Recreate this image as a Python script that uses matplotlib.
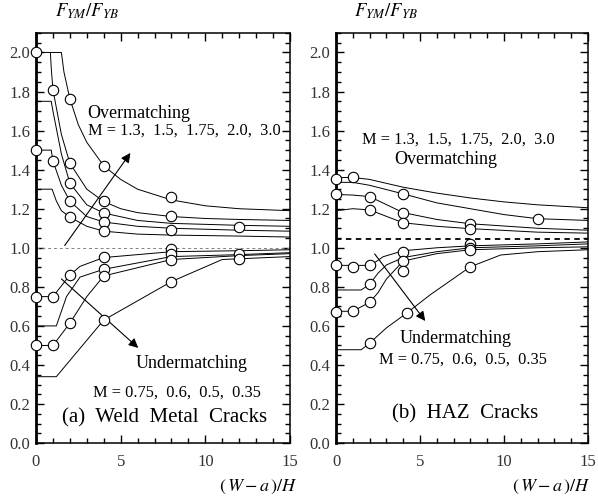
import numpy as np
import matplotlib
matplotlib.use("Agg")
import matplotlib.pyplot as plt
from matplotlib.ticker import MultipleLocator

plt.rcParams['font.family'] = ['Liberation Serif', 'DejaVu Serif']
plt.rcParams['mathtext.fontset'] = 'stix'

# ---- (a) weld metal cracks: overmatching curves (M = 3.0, 2.0, 1.75, 1.5, 1.3)
wm_o1_x = [0, 1.5, 1.65, 2, 2.5, 3, 4, 5, 6, 8, 10, 12, 15]
wm_o1_y = [2.0, 2.0, 1.9, 1.763, 1.63, 1.54, 1.42, 1.35, 1.30, 1.245, 1.215, 1.2, 1.19]
wm_o2_x = [0.85, 0.9, 1, 1.5, 2, 3, 4, 5, 6, 8, 10, 12, 15]
wm_o2_y = [2.0, 1.92, 1.81, 1.58, 1.433, 1.30, 1.237, 1.2, 1.18, 1.16, 1.15, 1.145, 1.14]
wm_o3_x = [0, 0.9, 1, 1.5, 2, 3, 4, 6, 8, 12, 15]
wm_o3_y = [1.75, 1.75, 1.70, 1.48, 1.331, 1.22, 1.178, 1.14, 1.125, 1.115, 1.11]
wm_o4_x = [0, 0.9, 1, 1.5, 2, 3, 4, 6, 8, 12, 15]
wm_o4_y = [1.5, 1.5, 1.445, 1.32, 1.239, 1.16, 1.132, 1.11, 1.10, 1.09, 1.085]
wm_o5_x = [0, 0.95, 1.2, 1.5, 2, 3, 4, 6, 8, 12, 15]
wm_o5_y = [1.3, 1.3, 1.24, 1.19, 1.157, 1.11, 1.085, 1.07, 1.065, 1.06, 1.055]

# undermatching curves (M = 0.75, 0.6, 0.5, 0.35)
wm_u1_x = [0, 1, 2, 2.6, 4, 8, 12, 15]
wm_u1_y = [0.75, 0.75, 0.86, 0.905, 0.95, 0.98, 0.985, 0.99]
wm_u2_x = [0, 1.2, 1.8, 2.6, 4, 8, 12, 15]
wm_u2_y = [0.6, 0.6, 0.75, 0.85, 0.89, 0.955, 0.965, 0.975]
wm_u3_x = [0, 1, 2, 3, 4, 8, 12, 15]
wm_u3_y = [0.5, 0.5, 0.614, 0.75, 0.856, 0.94, 0.96, 0.97]
wm_u4_x = [0, 1.2, 4, 8, 11, 15]
wm_u4_y = [0.34, 0.34, 0.63, 0.827, 0.94, 0.955]

# FE points
wm_pts_x = [0, 1, 2, 0, 1, 2, 2, 2, 2, 4, 4, 4, 4, 4, 8, 8, 8, 12,
            0, 1, 2, 0, 1, 2, 4, 4, 4, 4, 8, 8, 8, 8, 12, 12]
wm_pts_y = [2.0, 1.81, 1.763, 1.5, 1.445, 1.433, 1.331, 1.239, 1.157,
            1.42, 1.237, 1.178, 1.132, 1.085, 1.262, 1.161, 1.09, 1.107,
            0.75, 0.75, 0.86, 0.5, 0.5, 0.614, 0.954, 0.89, 0.856, 0.631,
            0.996, 0.967, 0.937, 0.827, 0.97, 0.945]

# ---- (b) HAZ cracks
haz_o1_x = [0, 1, 2, 4, 6, 8, 10, 12, 15]
haz_o1_y = [1.36, 1.36, 1.35, 1.31, 1.28, 1.255, 1.235, 1.22, 1.205]
haz_o2_x = [0, 1, 2, 4, 6, 8, 10, 12, 15]
haz_o2_y = [1.335, 1.335, 1.32, 1.276, 1.23, 1.20, 1.17, 1.149, 1.14]
haz_o3_x = [0, 1, 2, 4, 6, 8, 12, 15]
haz_o3_y = [1.273, 1.27, 1.262, 1.18, 1.145, 1.123, 1.10, 1.09]
haz_o4_x = [0, 1, 2, 4, 6, 8, 12, 15]
haz_o4_y = [1.19, 1.2, 1.194, 1.128, 1.11, 1.098, 1.08, 1.075]

haz_u1_x = [0, 2, 2.4, 2.8, 4, 6, 8, 12, 15]
haz_u1_y = [0.91, 0.91, 0.93, 0.954, 0.985, 1.0, 1.01, 1.02, 1.03]
haz_u2_x = [0, 1.5, 2, 2.5, 3, 4, 6, 8, 12, 15]
haz_u2_y = [0.784, 0.784, 0.813, 0.87, 0.912, 0.95, 0.98, 1.0, 1.01, 1.02]
haz_u3_x = [0, 1, 2, 2.5, 3, 4, 6, 8, 12, 15]
haz_u3_y = [0.675, 0.675, 0.721, 0.77, 0.84, 0.932, 0.97, 0.99, 1.0, 1.005]
haz_u4_x = [0, 1.5, 2, 3, 4.2, 5.6, 8, 9.8, 12, 15]
haz_u4_y = [0.478, 0.478, 0.512, 0.59, 0.665, 0.759, 0.903, 0.963, 0.98, 0.99]

haz_pts_x = [0, 1, 0, 2, 4, 2, 4, 4, 8, 8, 12,
             0, 1, 2, 4, 4, 4, 2, 0, 1, 2, 4.2, 2, 8, 8, 8, 8]
haz_pts_y = [1.352, 1.36, 1.273, 1.262, 1.276, 1.194, 1.18, 1.128, 1.123, 1.098, 1.149,
             0.912, 0.903, 0.912, 0.98, 0.932, 0.881, 0.813, 0.673, 0.677, 0.721,
             0.665, 0.512, 0.903, 1.02, 1.0, 0.99]


def style_axes(ax):
    ax.set_xlim(0, 15)
    ax.set_ylim(0, 2.1)
    ax.xaxis.set_major_locator(MultipleLocator(5))
    ax.xaxis.set_minor_locator(MultipleLocator(1))
    ax.yaxis.set_minor_locator(MultipleLocator(0.05))
    ax.set_yticks(np.arange(0, 2.01, 0.2))
    ax.set_yticklabels(['%.1f' % v for v in np.arange(0, 2.01, 0.2)])
    ax.tick_params(which='both', direction='in', top=True, right=True,
                   labelsize=12, labelcolor='#333333')
    ax.tick_params(axis='x', pad=8)
    ax.tick_params(axis='y', pad=4)
    ax.tick_params(which='major', length=6, width=1)
    ax.tick_params(which='minor', length=3.5, width=1)
    for s in ax.spines.values():
        s.set_linewidth(1.1)
    ax.spines['left'].set_linewidth(2)
    ax.text(0.2, 1.03, r'$F_{YM}/F_{YB}$', transform=ax.transAxes,
            ha='center', va='bottom', fontsize=13.5)


def draw_curves(ax, curves):
    for cx, cy in curves:
        ax.plot(cx, cy, color='black', lw=0.7)


def draw_points(ax, px, py):
    ax.plot(px, py, 'o', ms=7.5, mfc='white', mec='black', mew=0.8, zorder=5,
            clip_on=False)


fig = plt.figure(figsize=(5.98, 4.99), dpi=100)
ax1 = fig.add_axes([0.0602, 0.112, 0.4247, 0.822])
ax2 = fig.add_axes([0.5619, 0.112, 0.4214, 0.822])

# (a)
style_axes(ax1)
ax1.plot([0, 15], [1.0, 1.0], color='gray', lw=0.7, ls=(0, (3, 3)))
draw_curves(ax1, [(wm_o1_x, wm_o1_y), (wm_o2_x, wm_o2_y), (wm_o3_x, wm_o3_y),
                  (wm_o4_x, wm_o4_y), (wm_o5_x, wm_o5_y),
                  (wm_u1_x, wm_u1_y), (wm_u2_x, wm_u2_y), (wm_u3_x, wm_u3_y),
                  (wm_u4_x, wm_u4_y)])
draw_points(ax1, wm_pts_x, wm_pts_y)
ax1.annotate('', xy=(5.67, 1.497), xytext=(1.6, 1.0),
             arrowprops=dict(arrowstyle='-|>', color='black', lw=0.8, mutation_scale=14))
ax1.annotate('', xy=(6.16, 0.478), xytext=(1.38, 0.85),
             arrowprops=dict(arrowstyle='-|>', color='black', lw=0.8, mutation_scale=14))
ax1.text(3.05, 1.69, 'Overmatching', fontsize=13, ha='left', va='center')
ax1.text(3.05, 1.60, 'M = 1.3,  1.5,  1.75,  2.0,  3.0', fontsize=11.8, ha='left', va='center')
ax1.text(9.2, 0.41, 'Undermatching', fontsize=13, ha='center', va='center')
ax1.text(8.3, 0.257, 'M = 0.75,  0.6,  0.5,  0.35', fontsize=11.8, ha='center', va='center')
ax1.text(7.6, 0.13, '(a)  Weld  Metal  Cracks', fontsize=15, ha='center', va='center')
ax1.text(1.03, -0.107, r'$(\,W-a\,)/H$', transform=ax1.transAxes, ha='right', va='center',
         fontsize=13)

# (b)
style_axes(ax2)
ax2.plot([0, 15], [1.045, 1.045], color='black', lw=1.3, ls=(0, (3, 2.5)))
draw_curves(ax2, [(haz_o1_x, haz_o1_y), (haz_o2_x, haz_o2_y), (haz_o3_x, haz_o3_y),
                  (haz_o4_x, haz_o4_y),
                  (haz_u1_x, haz_u1_y), (haz_u2_x, haz_u2_y), (haz_u3_x, haz_u3_y),
                  (haz_u4_x, haz_u4_y)])
draw_points(ax2, haz_pts_x, haz_pts_y)
ax2.annotate('', xy=(5.41, 0.614), xytext=(2.2, 0.98),
             arrowprops=dict(arrowstyle='-|>', color='black', lw=0.8, mutation_scale=14))
ax2.text(7.3, 1.555, 'M = 1.3,  1.5,  1.75,  2.0,  3.0', fontsize=11.8, ha='center', va='center')
ax2.text(6.56, 1.453, 'Overmatching', fontsize=13, ha='center', va='center')
ax2.text(7.1, 0.537, 'Undermatching', fontsize=13, ha='center', va='center')
ax2.text(7.57, 0.427, 'M = 0.75,  0.6,  0.5,  0.35', fontsize=11.8, ha='center', va='center')
ax2.text(7.7, 0.15, '(b)  HAZ  Cracks', fontsize=15, ha='center', va='center')
ax2.text(1.01, -0.107, r'$(\,W-a\,)/H$', transform=ax2.transAxes, ha='right', va='center',
         fontsize=13)

fig.savefig('out.png', dpi=100)
